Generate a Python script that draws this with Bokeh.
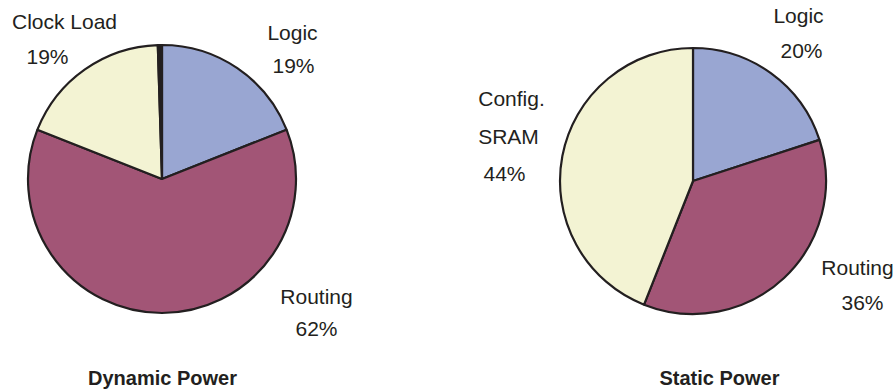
import math
import pandas as pd
from bokeh.plotting import figure
from bokeh.models import Range1d, ColumnDataSource
from bokeh.core.properties import value
from bokeh.embed import file_html
from bokeh.resources import INLINE

# ---- data ----
dyn_categories = ["Logic", "Routing", "Clock Load", "Other"]
dyn_values = [19, 62, 18.5, 0.5]
dyn_labels = ["19%", "62%", "19%", ""]

stat_categories = ["Logic", "Routing", "Config. SRAM"]
stat_values = [20, 36, 44]
stat_labels = ["20%", "36%", "44%"]

colors = {"Logic": "#99A6D2", "Routing": "#A25576", "Clock Load": "#F3F3D3",
          "Config. SRAM": "#F3F3D3", "Other": "#231F20"}
outline = "#231F20"

W, H = 896, 392
p = figure(width=W, height=H, output_backend="svg", toolbar_location=None,
           x_range=Range1d(0, W), y_range=Range1d(0, H), min_border=0)
p.axis.visible = False
p.grid.visible = False
p.outline_line_color = None
p.background_fill_color = "white"


def pie(cats, vals, cx, cy, r):
    df = pd.DataFrame({"cat": cats, "val": vals})
    frac = df["val"] / df["val"].sum() * 2 * math.pi
    cum = frac.cumsum()
    df["start"] = math.pi / 2 - (cum - frac)
    df["end"] = math.pi / 2 - cum
    df["color"] = [colors[c] for c in cats]
    df["x"] = cx
    df["y"] = cy
    src = ColumnDataSource(df)
    p.wedge(x="x", y="y", radius=r, start_angle="start", end_angle="end",
            direction="clock", fill_color="color", line_color=outline,
            line_width=2.2, source=src)


pie(dyn_categories, dyn_values, 161.5, 392 - 178.5, 134)
pie(stat_categories, stat_values, 692.5, 392 - 180.5, 133)

# labels (reference pixel positions -> data y = 392 - Y)
lab_text = ["Clock Load", dyn_labels[2], "Logic", dyn_labels[0], "Routing", dyn_labels[1],
            "Logic", stat_labels[0], "Config.", "SRAM", stat_labels[2], "Routing", stat_labels[1]]
lab_x = [64, 47, 292, 293, 316, 316, 798, 801, 511, 508, 504, 857, 862]
lab_Y = [21, 56, 32, 65, 296, 328, 15, 50, 98, 136, 173, 267, 302]
p.text(x=lab_x, y=[392 - v for v in lab_Y], text=lab_text,
       text_font=value("Liberation Sans"), text_font_size="21px",
       text_align="center", text_baseline="middle", text_color="#231F20")

titles = ["Dynamic Power", "Static Power"]
p.text(x=[162, 719], y=[392 - 377, 392 - 377], text=titles,
       text_font=value("Liberation Sans"), text_font_size="20px",
       text_font_style="bold", text_align="center", text_baseline="middle",
       text_color="#231F20")

open("out.html", "w").write(file_html(p, INLINE))
